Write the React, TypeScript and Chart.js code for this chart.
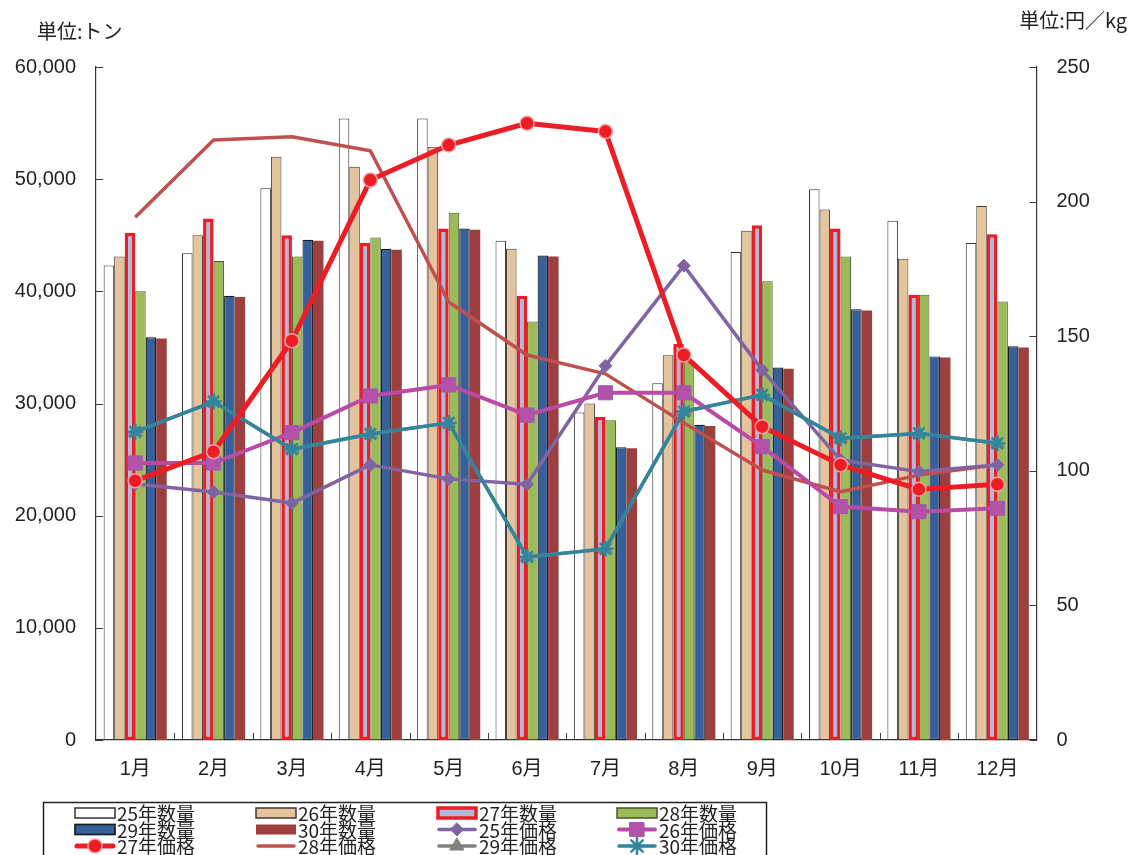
import React, { useEffect, useRef } from 'react';
import { Chart, registerables } from 'chart.js';

Chart.register(...registerables);

const months = ['1月', '2月', '3月', '4月', '5月', '6月', '7月', '8月', '9月', '10月', '11月', '12月'];
const leftTickLabels = ['0', '10,000', '20,000', '30,000', '40,000', '50,000', '60,000'];
const rightTickLabels = ['0', '50', '100', '150', '200', '250'];

const qty25 = [42300, 43400, 49200, 55400, 55400, 44500, 29200, 31800, 43500, 49100, 46300, 44300];
const qty26 = [43100, 45000, 52000, 51100, 52900, 43800, 30000, 34300, 45400, 47300, 42900, 47600];
const qty27 = [45200, 46500, 45000, 44300, 45600, 39600, 28800, 35300, 45900, 45600, 39700, 45100];
const qty28 = [40000, 42700, 43100, 44800, 47000, 37300, 28500, 33800, 40900, 43100, 39700, 39100];
const qty29 = [35900, 39600, 44600, 43800, 45600, 43200, 26100, 28100, 33200, 38400, 34200, 35100];
const qty30 = [35800, 39500, 44500, 43700, 45500, 43100, 26000, 28000, 33100, 38300, 34100, 35000];

const price25 = [95.1, 92.1, 88.0, 102.2, 97.0, 95.0, 139.0, 176.2, 137.4, 104.0, 99.7, 102.2];
const price26 = [102.9, 102.9, 114.2, 127.8, 131.9, 120.7, 129.0, 129.0, 109.0, 86.7, 84.8, 86.1];
const price27 = [96.3, 107.1, 148.3, 208.0, 221.0, 229.1, 226.0, 143.0, 116.4, 102.2, 93.1, 95.0];
const price28 = [194.2, 222.9, 224.1, 218.9, 162.7, 143.0, 136.0, 117.8, 100.3, 92.2, 98.4, 102.2];
const price29 = [114.5, 125.7, 108.0, 113.7, 117.8, 68.0, 71.0, 122.0, 128.2, 112.1, 113.9, 110.2];
const price30 = [114.5, 125.7, 108.0, 113.7, 117.8, 68.0, 71.0, 122.0, 128.2, 112.1, 113.9, 110.2];

const NUM_FONT = '"Liberation Sans", "Noto Sans CJK JP", sans-serif';
const JP_FONT = '"Noto Sans CJK JP", "Liberation Sans", sans-serif';
const TEXT = '#231f20';

function drawMarker(ctx: CanvasRenderingContext2D, style: string, x: number, y: number, r: number, fill: string, stroke: string, bw: number) {
  ctx.save();
  ctx.fillStyle = fill;
  ctx.strokeStyle = stroke;
  ctx.lineWidth = bw;
  ctx.beginPath();
  if (style === 'circle') {
    ctx.arc(x, y, r, 0, Math.PI * 2);
    ctx.fill();
    if (bw > 0) ctx.stroke();
  } else if (style === 'rect') {
    const s = Math.SQRT1_2 * r;
    ctx.rect(x - s, y - s, 2 * s, 2 * s);
    ctx.fill();
    if (bw > 0) ctx.stroke();
  } else if (style === 'rectRot') {
    ctx.moveTo(x, y - r);
    ctx.lineTo(x + r, y);
    ctx.lineTo(x, y + r);
    ctx.lineTo(x - r, y);
    ctx.closePath();
    ctx.fill();
    if (bw > 0) ctx.stroke();
  } else if (style === 'triangle') {
    ctx.moveTo(x, y - r);
    ctx.lineTo(x + r * 0.866, y + r * 0.5);
    ctx.lineTo(x - r * 0.866, y + r * 0.5);
    ctx.closePath();
    ctx.fill();
    if (bw > 0) ctx.stroke();
  } else if (style === 'star') {
    for (let k = 0; k < 4; k++) {
      const a = (k * Math.PI) / 4;
      ctx.moveTo(x - Math.cos(a) * r, y - Math.sin(a) * r);
      ctx.lineTo(x + Math.cos(a) * r, y + Math.sin(a) * r);
    }
    ctx.stroke();
  }
  ctx.restore();
}

const decorPlugin = {
  id: 'decor',
  afterDraw(chart: any) {
    const ctx: CanvasRenderingContext2D = chart.ctx;
    const { left, right, bottom } = chart.chartArea;
    ctx.save();
    // inward tick marks
    ctx.strokeStyle = '#3a3a3a';
    ctx.lineWidth = 1;
    const yL = chart.scales.y;
    yL.ticks.forEach((t: any) => {
      const py = Math.round(yL.getPixelForValue(t.value)) + 0.5;
      ctx.beginPath();
      ctx.moveTo(left, py);
      ctx.lineTo(left + 7, py);
      ctx.stroke();
    });
    const yR = chart.scales.y2;
    yR.ticks.forEach((t: any) => {
      const py = Math.round(yR.getPixelForValue(t.value)) + 0.5;
      ctx.beginPath();
      ctx.moveTo(right - 7, py);
      ctx.lineTo(right, py);
      ctx.stroke();
    });
    const xs = chart.scales.x;
    for (let i = 1; i < months.length; i++) {
      const px = Math.round((xs.getPixelForValue(i - 1) + xs.getPixelForValue(i)) / 2) + 0.5;
      ctx.beginPath();
      ctx.moveTo(px, bottom);
      ctx.lineTo(px, bottom - 7);
      ctx.stroke();
    }

    // unit labels
    ctx.fillStyle = TEXT;
    ctx.font = '20px ' + JP_FONT;
    ctx.textBaseline = 'middle';
    ctx.textAlign = 'left';
    ctx.fillText('単位:トン', 37, 31);
    ctx.textAlign = 'right';
    ctx.fillText('単位:円／kg', 1127, 20);

    // legend
    ctx.strokeStyle = '#222';
    ctx.lineWidth = 1.5;
    ctx.strokeRect(43.5, 802.5, 723, 80);
    const colX = [75, 256, 437, 617];
    const rowY = [813, 829.5, 846];
    ctx.font = '19px ' + JP_FONT;
    ctx.textAlign = 'left';
    ctx.textBaseline = 'middle';
    chart.data.datasets.forEach((ds: any, i: number) => {
      const col = i % 4;
      const row = Math.floor(i / 4);
      const x0 = colX[col];
      const y = rowY[row];
      if (ds.type === 'bar' || !ds.type) {
        const bw = ds.borderWidth || 0;
        ctx.fillStyle = ds.backgroundColor;
        if (bw > 2) {
          ctx.fillRect(x0 + 1, y - 5, 38, 10);
          ctx.strokeStyle = ds.borderColor;
          ctx.lineWidth = bw;
          ctx.strokeRect(x0 + 1, y - 5, 38, 10);
        } else {
          ctx.fillRect(x0, y - 5, 40, 10);
          if (bw > 0) {
            ctx.strokeStyle = ds.borderColor;
            ctx.lineWidth = bw + 0.5;
            ctx.strokeRect(x0, y - 5, 40, 10);
          }
        }
      } else {
        ctx.strokeStyle = ds.borderColor;
        ctx.lineWidth = ds.borderWidth;
        ctx.lineCap = 'round';
        ctx.beginPath();
        ctx.moveTo(x0 + 2, y);
        ctx.lineTo(x0 + 38, y);
        ctx.stroke();
        if (ds.pointRadius > 0) {
          drawMarker(ctx, ds.pointStyle, x0 + 20, y, ds.pointRadius, ds.pointBackgroundColor, ds.pointBorderColor, ds.pointBorderWidth);
        }
      }
      ctx.fillStyle = TEXT;
      ctx.fillText(ds.label, x0 + 42, y + 1);
    });
    ctx.restore();
  },
};

export default function App() {
  const ref = useRef<HTMLCanvasElement | null>(null);

  useEffect(() => {
    if (!ref.current) return;
    const bar = (label: string, data: number[], bg: string, bc: string, bw: number) => ({
      type: 'bar' as const,
      label,
      data,
      backgroundColor: bg,
      borderColor: bc,
      borderWidth: bw,
      borderSkipped: false,
      yAxisID: 'y',
      order: 20,
      categoryPercentage: 0.805,
      barPercentage: 1.0,
    });
    const line = (label: string, data: number[], color: string, width: number, style: string, radius: number, pfill: string, pborder: string, pbw: number, order: number) => ({
      type: 'line' as const,
      label,
      data,
      borderColor: color,
      backgroundColor: color,
      borderWidth: width,
      pointStyle: style,
      pointRadius: radius,
      pointHoverRadius: radius,
      pointBackgroundColor: pfill,
      pointBorderColor: pborder,
      pointBorderWidth: pbw,
      tension: 0,
      fill: false,
      yAxisID: 'y2',
      order,
      borderJoinStyle: 'round',
    });

    const chart = new Chart(ref.current, {
      type: 'bar',
      data: {
        labels: months,
        datasets: [
          bar('25年数量', qty25, '#ffffff', '#333333', 1),
          bar('26年数量', qty26, '#e4c49d', '#3f3a35', 1),
          bar('27年数量', qty27, '#a9badb', '#ee1c24', 3.5),
          bar('28年数量', qty28, '#9bbb59', '#48552b', 1),
          bar('29年数量', qty29, '#36609a', '#1c1c1c', 1.2),
          bar('30年数量', qty30, '#9c3f3e', '#9c3f3e', 0),
          line('25年価格', price25, '#8064a2', 3.5, 'rectRot', 6.5, '#8064a2', '#8064a2', 1, 6),
          line('26年価格', price26, '#bb4aa6', 4, 'rect', 10, '#b352a8', '#9660b0', 1, 5),
          line('27年価格', price27, '#ee1c24', 5, 'circle', 7, '#ee1c24', '#f2a3a3', 1.5, 1),
          line('28年価格', price28, '#c0504d', 3.5, 'circle', 0, '#c0504d', '#c0504d', 0, 7),
          line('29年価格', price29, '#808080', 3.5, 'triangle', 8, '#808080', '#808080', 1, 3),
          line('30年価格', price30, '#31859c', 3.5, 'star', 8, '#31859c', '#31859c', 2.5, 2),
        ] as any,
      },
      options: {
        animation: false,
        responsive: false,
        devicePixelRatio: 1,
        layout: { padding: { top: 67, left: 0, right: 0, bottom: 0 } },
        plugins: {
          legend: { display: false },
          tooltip: { enabled: false },
          title: { display: false },
        },
        scales: {
          x: {
            grid: { display: false, drawOnChartArea: false, drawTicks: false },
            border: { display: true, color: '#333333', width: 1.2 },
            ticks: {
              font: { size: 20, family: NUM_FONT },
              color: TEXT,
              padding: 17,
              maxRotation: 0,
              autoSkip: false,
            },
            afterFit: (s: any) => {
              s.height = 115;
            },
          },
          y: {
            type: 'linear',
            position: 'left',
            min: 0,
            max: 60000,
            grid: { display: false, drawOnChartArea: false, drawTicks: false },
            border: { display: true, color: '#333333', width: 1.2 },
            ticks: {
              stepSize: 10000,
              padding: 20,
              font: { size: 20, family: NUM_FONT },
              color: TEXT,
              callback: (_v: any, i: number) => leftTickLabels[i],
            },
            afterFit: (s: any) => {
              s.width = 96;
            },
          },
          y2: {
            type: 'linear',
            position: 'right',
            min: 0,
            max: 250,
            grid: { display: false, drawOnChartArea: false, drawTicks: false },
            border: { display: true, color: '#333333', width: 1.2 },
            ticks: {
              stepSize: 50,
              padding: 20,
              font: { size: 20, family: NUM_FONT },
              color: TEXT,
              callback: (_v: any, i: number) => rightTickLabels[i],
            },
            afterFit: (s: any) => {
              s.width = 96.5;
            },
          },
        },
      } as any,
      plugins: [decorPlugin],
    });
    return () => chart.destroy();
  }, []);

  return (
    <div style={{ position: 'absolute', left: 0, top: 0, width: 1133, height: 855, background: '#ffffff', overflow: 'hidden' }}>
      <canvas ref={ref} width={1133} height={855} style={{ display: 'block', width: 1133, height: 855 }} />
    </div>
  );
}
